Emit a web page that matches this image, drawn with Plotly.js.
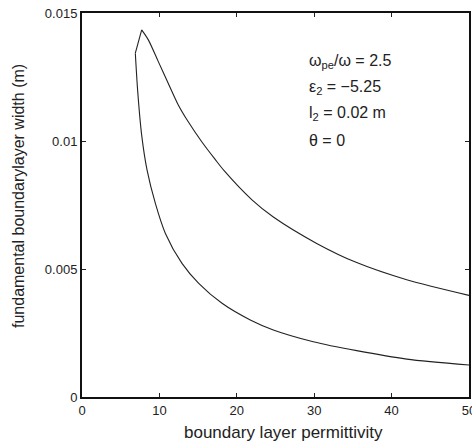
<!DOCTYPE html>
<html>
<head>
<meta charset="utf-8">
<script src="https://cdn.plot.ly/plotly-3.0.1.min.js"></script>
<style>html,body{margin:0;padding:0;background:#fff;}</style>
</head>
<body>
<div id="chart" style="width:472px;height:447px;"></div>
<script>
// Upper branch
var upperX = [7.71, 8.57, 9.86, 11.15, 12.44, 13.73, 15.47, 17.18, 18.39, 21.96, 24.72, 30.32, 35.49, 41.95, 50.0];
var upperY = [0.01434, 0.01395, 0.01310, 0.01225, 0.01141, 0.01075, 0.00997, 0.00929, 0.00883, 0.00770, 0.00703, 0.00600, 0.00525, 0.00458, 0.00397];
// Lower branch
var lowerX = [6.89, 7.20, 7.71, 8.40, 9.47, 10.76, 12.92, 15.08, 18.09, 21.74, 24.72, 29.88, 35.49, 41.95, 50.0];
var lowerY = [0.01343, 0.01193, 0.01023, 0.00887, 0.00757, 0.00640, 0.00522, 0.00444, 0.00366, 0.00301, 0.00262, 0.00216, 0.00181, 0.00148, 0.00125];

var xTicks = [0, 10, 20, 30, 40, 50];
var yTicks = [0, 0.005, 0.01, 0.015];
var yTickText = ['0', '0.005', '0.01', '0.015'];

var lines = [
  '\u03c9<sub>pe</sub>/\u03c9 = 2.5',
  '\u03b5<sub>2</sub> = \u22125.25',
  'l<sub>2</sub> = 0.02 m',
  '\u03b8 = 0'
];

var font = 'Liberation Sans, Arial, Helvetica, sans-serif';
var lineStyle = {color: '#222', width: 1.1};

var traces = [
  {x: lowerX, y: lowerY, mode: 'lines', type: 'scatter',
   line: {color: lineStyle.color, width: lineStyle.width, shape: 'spline', smoothing: 0.8},
   hoverinfo: 'none', showlegend: false},
  {x: [lowerX[0], upperX[0]], y: [lowerY[0], upperY[0]], mode: 'lines', type: 'scatter',
   line: {color: lineStyle.color, width: lineStyle.width},
   hoverinfo: 'none', showlegend: false},
  {x: upperX, y: upperY, mode: 'lines', type: 'scatter',
   line: {color: lineStyle.color, width: lineStyle.width, shape: 'spline', smoothing: 0.8},
   hoverinfo: 'none', showlegend: false}
];

var annotations = lines.map(function (t, i) {
  return {
    xref: 'paper', yref: 'paper',
    x: (307 - 82) / (469 - 82), y: 1 - ((61 + i * 26.5) - 13) / (397 - 13),
    xanchor: 'left', yanchor: 'middle', showarrow: false,
    text: t, font: {family: font, size: 16, color: '#222'}
  };
});
annotations.push({
  xref: 'paper', yref: 'paper', x: (283 - 82) / (469 - 82), y: -(432 - 397) / (397 - 13),
  xanchor: 'center', yanchor: 'middle', showarrow: false,
  text: 'boundary layer permittivity', font: {family: font, size: 17, color: '#222'}
});
annotations.push({
  xref: 'paper', yref: 'paper', x: -(82 - 18) / (469 - 82), y: 1 - (196 - 13) / (397 - 13),
  xanchor: 'center', yanchor: 'middle', showarrow: false, textangle: -90,
  text: 'fundamental boundarylayer width (m)', font: {family: font, size: 16, color: '#222'}
});

var layout = {
  width: 472, height: 447,
  margin: {l: 82, r: 3, t: 13, b: 50, pad: 0},
  paper_bgcolor: '#fff', plot_bgcolor: '#fff',
  font: {family: font, size: 13, color: '#222'},
  xaxis: {
    range: [0, 50], tickvals: xTicks, ticks: 'inside', ticklen: 4, tickcolor: '#222',
    showline: true, linecolor: '#111', linewidth: 2, mirror: 'allticks',
    showgrid: false, zeroline: false, fixedrange: true, ticklabeloverflow: 'allow',
    tickfont: {family: font, size: 13, color: '#222'}
  },
  yaxis: {
    range: [0, 0.015], tickvals: yTicks, ticktext: yTickText, ticks: 'inside', ticklen: 4, tickcolor: '#222',
    showline: true, linecolor: '#111', linewidth: 2, mirror: 'allticks',
    showgrid: false, zeroline: false, fixedrange: true, ticklabeloverflow: 'allow',
    tickfont: {family: font, size: 13, color: '#222'}
  },
  annotations: annotations
};

Plotly.newPlot('chart', traces, layout, {displayModeBar: false, staticPlot: true});
</script>
</body>
</html>
